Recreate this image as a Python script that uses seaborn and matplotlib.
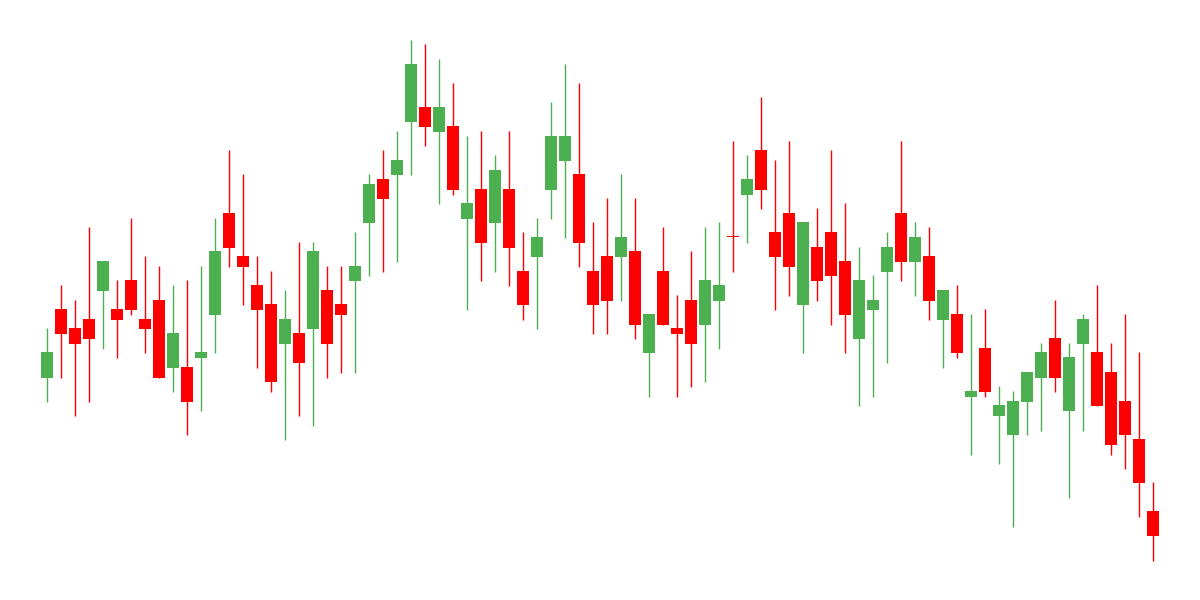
import numpy as np
import pandas as pd
import matplotlib
matplotlib.use("Agg")
import matplotlib.pyplot as plt
import seaborn as sns

# OHLC values, one entry per session
opens = [222, 291, 272, 281, 309, 291, 320, 281, 300, 232,
         233, 242, 285, 387, 344, 315, 296, 256, 267, 271,
         310, 296, 319, 377, 421, 425, 478, 493, 468, 474,
         381, 411, 377, 411, 329, 343, 410, 439, 426, 329,
         344, 343, 349, 247, 329, 272, 300, 275, 299, 363,
         405, 450, 368, 387, 295, 353, 368, 339, 261, 290,
         328, 387, 338, 344, 280, 286, 203, 252, 184, 165,
         198, 222, 262, 189, 256, 248, 228, 199, 161, 89]
highs = [272, 315, 300, 373, 339, 320, 382, 344, 334, 315,
         320, 334, 382, 450, 426, 344, 329, 310, 358, 358,
         334, 334, 368, 426, 450, 469, 560, 556, 541, 517,
         464, 469, 445, 469, 368, 382, 498, 536, 517, 378,
         402, 426, 402, 286, 373, 305, 349, 373, 378, 459,
         445, 503, 440, 459, 378, 392, 450, 397, 353, 325,
         368, 459, 378, 373, 310, 315, 286, 291, 214, 209,
         228, 257, 300, 257, 286, 315, 257, 286, 248, 118]
lows = [198, 222, 184, 198, 251, 242, 285, 247, 222, 208,
        165, 189, 247, 333, 295, 232, 208, 160, 184, 174,
        222, 227, 227, 324, 328, 338, 425, 454, 396, 405,
        290, 319, 328, 314, 280, 271, 381, 362, 333, 266,
        266, 299, 261, 203, 275, 203, 213, 218, 251, 328,
        357, 391, 290, 304, 247, 299, 275, 247, 194, 203,
        237, 319, 304, 280, 232, 242, 145, 203, 136, 73,
        165, 169, 208, 102, 169, 194, 145, 131, 83, 39]
closes = [248, 266, 256, 261, 339, 280, 290, 271, 222, 267,
          198, 248, 349, 352, 333, 290, 218, 281, 237, 349,
          256, 285, 334, 416, 401, 440, 536, 473, 493, 410,
          397, 357, 430, 352, 295, 363, 464, 464, 357, 295,
          299, 363, 275, 286, 275, 266, 256, 320, 315, 363,
          421, 410, 343, 333, 378, 319, 324, 285, 320, 300,
          353, 338, 363, 299, 310, 247, 209, 208, 195, 199,
          228, 248, 222, 243, 281, 194, 155, 165, 117, 64]

df = pd.DataFrame({"open": opens, "high": highs, "low": lows, "close": closes})
df["idx"] = np.arange(len(df))
df["dir"] = np.where(df["close"] > df["open"], "up", "down")

palette = {"up": "#4caf50", "down": "#ff0000"}

sns.set_style("white")
fig = plt.figure(figsize=(12, 6), dpi=100)
ax = fig.add_axes([0, 0, 1, 1])

colors = df["dir"].map(palette)

# wicks
ax.vlines(df["idx"], df["low"], df["high"], colors=colors, linewidth=1)

# bodies (doji gets a 1 unit tall body so it still shows)
body_low = df[["open", "close"]].min(axis=1)
body_h = (df["close"] - df["open"]).abs().clip(lower=1)
ax.bar(df["idx"], body_h, bottom=body_low, width=0.79, color=colors, linewidth=0)

ax.set_xlim(-47 / 14, (1200 - 47) / 14)
ax.set_ylim(0, 600)
ax.set_xticks([])
ax.set_yticks([])
sns.despine(ax=ax, left=True, bottom=True)

fig.savefig("out.png", dpi=100, facecolor="white")
